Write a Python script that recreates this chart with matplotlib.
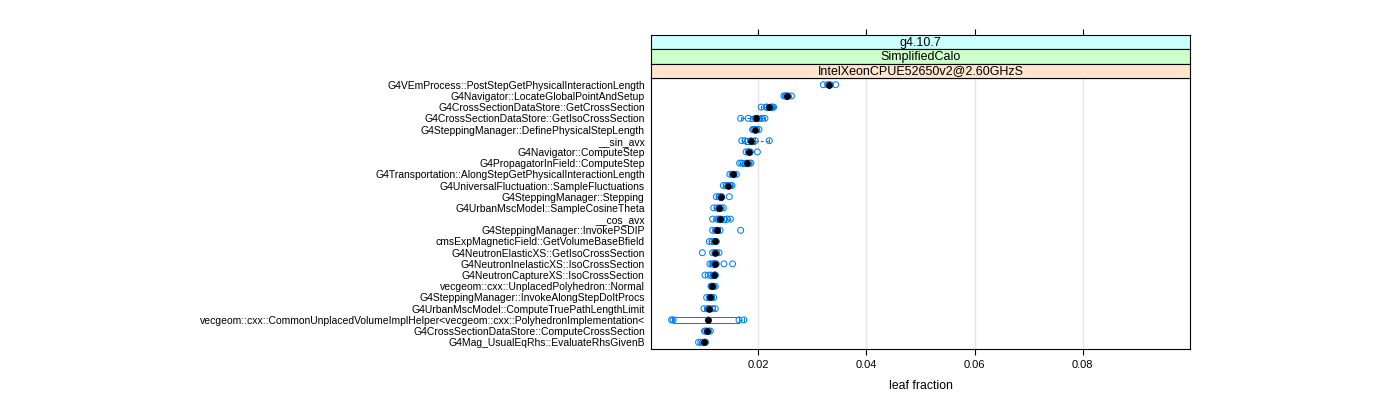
import matplotlib
matplotlib.use("Agg")
import matplotlib.pyplot as plt
import numpy as np

plt.rcParams['font.family'] = ['Liberation Sans', 'DejaVu Sans']

functions = [
    "G4VEmProcess::PostStepGetPhysicalInteractionLength",
    "G4Navigator::LocateGlobalPointAndSetup",
    "G4CrossSectionDataStore::GetCrossSection",
    "G4CrossSectionDataStore::GetIsoCrossSection",
    "G4SteppingManager::DefinePhysicalStepLength",
    "__sin_avx",
    "G4Navigator::ComputeStep",
    "G4PropagatorInField::ComputeStep",
    "G4Transportation::AlongStepGetPhysicalInteractionLength",
    "G4UniversalFluctuation::SampleFluctuations",
    "G4SteppingManager::Stepping",
    "G4UrbanMscModel::SampleCosineTheta",
    "__cos_avx",
    "G4SteppingManager::InvokePSDIP",
    "cmsExpMagneticField::GetVolumeBaseBfield",
    "G4NeutronElasticXS::GetIsoCrossSection",
    "G4NeutronInelasticXS::IsoCrossSection",
    "G4NeutronCaptureXS::IsoCrossSection",
    "vecgeom::cxx::UnplacedPolyhedron::Normal",
    "G4SteppingManager::InvokeAlongStepDoItProcs",
    "G4UrbanMscModel::ComputeTruePathLengthLimit",
    "vecgeom::cxx::CommonUnplacedVolumeImplHelper<vecgeom::cxx::PolyhedronImplementation<",
    "G4CrossSectionDataStore::ComputeCrossSection",
    "G4Mag_UsualEqRhs::EvaluateRhsGivenB",
]

leaf_fraction = [
    [0.0320, 0.0328, 0.0330, 0.0333, 0.0343],
    [0.0247, 0.0250, 0.0252, 0.0255, 0.0261],
    [0.0205, 0.0214, 0.0216, 0.0223, 0.0226, 0.0228],
    [0.0167, 0.0181, 0.0194, 0.0198, 0.0206, 0.0212],
    [0.0189, 0.0191, 0.0193, 0.0197, 0.0201],
    [0.0169, 0.0175, 0.0186, 0.0194, 0.0220],
    [0.0177, 0.0181, 0.0182, 0.0185, 0.0198],
    [0.0165, 0.0169, 0.0178, 0.0183, 0.0186],
    [0.0147, 0.0151, 0.0153, 0.0155, 0.0159],
    [0.0135, 0.0140, 0.0143, 0.0148, 0.0151],
    [0.0122, 0.0127, 0.0130, 0.0132, 0.0146],
    [0.0117, 0.0123, 0.0127, 0.0131, 0.0135],
    [0.0115, 0.0123, 0.0127, 0.0131, 0.0142, 0.0148],
    [0.0115, 0.0120, 0.0123, 0.0129, 0.0167],
    [0.0109, 0.0114, 0.0118, 0.0121, 0.0121, 0.0122],
    [0.0096, 0.0115, 0.0119, 0.0122, 0.0127],
    [0.0110, 0.0114, 0.0116, 0.0118, 0.0119, 0.0120, 0.0122, 0.0136, 0.0152],
    [0.0101, 0.0107, 0.0112, 0.0118, 0.0119, 0.0120, 0.0120],
    [0.0112, 0.0113, 0.0114, 0.0117, 0.0120],
    [0.0104, 0.0109, 0.0111, 0.0113, 0.0117],
    [0.0099, 0.0106, 0.0107, 0.0109, 0.0115, 0.0120],
    [0.0039, 0.0042, 0.0107, 0.0164, 0.0173],
    [0.0100, 0.0102, 0.0105, 0.0108, 0.0111],
    [0.0089, 0.0093, 0.0097, 0.0100, 0.0101, 0.0101, 0.0102],
]

strip_labels = ["g4.10.7", "SimplifiedCalo", "IntelXeonCPUE52650v2@2.60GHzS"]
strip_colors = ["#ccffff", "#ccffcc", "#ffe5cc"]
x_ticks = [0.02, 0.04, 0.06, 0.08]
x_label = "leaf fraction"

BLUE = "#0080ff"
W, H = 1400, 400
fig = plt.figure(figsize=(14, 4), dpi=100)

px_l, px_r, px_t, px_b = 651, 1190, 78, 349
strip_h = 14.3
xlim = (0.0001, 0.0999)

ax = fig.add_axes([px_l / W, 1 - px_b / H, (px_r - px_l) / W, (px_b - px_t) / H])
n = len(functions)
ypos = [n - i for i in range(n)]

for xt in x_ticks:
    ax.axvline(xt, color="#e6e6e6", lw=1.0, zorder=0)

bp = ax.boxplot(leaf_fraction, positions=ypos, orientation="horizontal", widths=0.5,
                showfliers=False, whis=1.5, capwidths=0.25,
                whiskerprops=dict(color=BLUE, lw=0.75, ls=(0, (3, 2))),
                capprops=dict(color=BLUE, lw=0.75),
                medianprops=dict(lw=0), manage_ticks=False)
for b in bp["boxes"]:
    b.set_color(BLUE)
    b.set_linewidth(0.75)

for vals, y in zip(leaf_fraction, ypos):
    ax.scatter(vals, [y] * len(vals), s=18, facecolors="none",
               edgecolors=BLUE, linewidths=0.75, zorder=3)
    ax.plot([np.median(vals)], [y], "o", color="black", ms=3.8, zorder=4)

ax.set_xlim(*xlim)
ax.set_ylim(0.4, n + 0.6)
ax.set_yticks(ypos)
ax.set_yticklabels(functions, fontsize=7.5)
ax.tick_params(axis="y", length=0, pad=4.5)
ax.set_xticks(x_ticks)
ax.set_xticklabels([f"{t:g}" for t in x_ticks], fontsize=8)
ax.tick_params(axis="x", length=4, width=0.8, pad=4, direction="out")
ax.set_xlabel(x_label, fontsize=8.8, labelpad=7)
for s in ax.spines.values():
    s.set_linewidth(0.8)

# strips
for i, (lab, col) in enumerate(zip(strip_labels, strip_colors)):
    top = px_t - strip_h * (3 - i)
    sax = fig.add_axes([px_l / W, 1 - (top + strip_h) / H, (px_r - px_l) / W, strip_h / H])
    sax.set_facecolor(col)
    sax.set_xlim(*xlim)
    sax.set_yticks([])
    for s in sax.spines.values():
        s.set_linewidth(0.8)
    sax.text(0.5, 0.45, lab, ha="center", va="center", fontsize=9, transform=sax.transAxes)
    if i == 0:
        sax.set_xticks(x_ticks)
        sax.tick_params(axis="x", top=True, bottom=False, labeltop=False,
                        labelbottom=False, length=4, width=0.8, direction="out")
    else:
        sax.set_xticks([])

fig.savefig("out.png", dpi=100, facecolor="white")
